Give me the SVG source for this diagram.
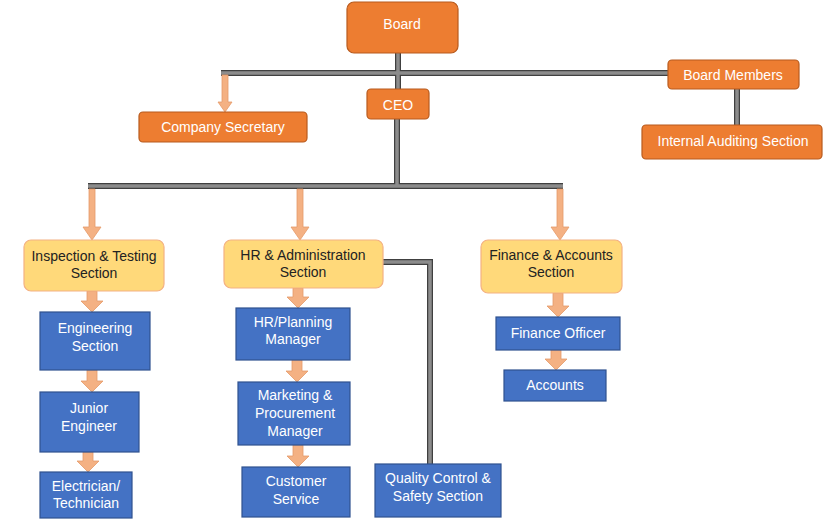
<svg xmlns="http://www.w3.org/2000/svg" width="825" height="528" viewBox="0 0 825 528">
<style>
text{font-family:"Liberation Sans",Arial,sans-serif;fill:#fff;text-anchor:middle;font-size:14px}
.o{fill:#ED7D31;stroke:#B85B1E;stroke-width:1.2}
.y{fill:#FFD97A;stroke:#F4B183;stroke-width:1.2}
.y+text,.yt{fill:#222}
.b{fill:#4472C4;stroke:#2F528F;stroke-width:1.2}
.ln{fill:none;stroke:#404040;stroke-width:6}
.li{fill:none;stroke:#8C8C8C;stroke-width:3.5}
.ar{fill:#F4B183;stroke:#E59A6A;stroke-width:0.8}
</style>
<rect width="825" height="528" fill="#fff"/>
<g id="connectors">
<path class="ln" d="M398 53V90M221 73H668M737 89V125M397 119V186M88 186H563M383 262H430V464"/>
<path class="li" d="M398 53V90M221 73H668M737 89V125M397 119V186M88 186H563M383 262H430V464"/>
<path class="ar" d="M222 75h6v27h4l-7 10l-7-10h4z"/>
<path class="ar" d="M89 189h6v38h6l-9 13l-9-13h6z"/>
<path class="ar" d="M297 189h6v38h6l-9 13l-9-13h6z"/>
<path class="ar" d="M557 189h6v38h6l-9 13l-9-13h6z"/>
<path class="ar" d="M87 291h10v10h6l-11 11l-11-11h6z"/>
<path class="ar" d="M87 370h10v11h6l-11 11l-11-11h6z"/>
<path class="ar" d="M83 452h10v9h6l-11 11l-11-11h6z"/>
<path class="ar" d="M293 288h10v9h6l-11 11l-11-11h6z"/>
<path class="ar" d="M292 360h10v11h6l-11 11l-11-11h6z"/>
<path class="ar" d="M293 445h10v11h6l-11 11l-11-11h6z"/>
<path class="ar" d="M553 293h10v13h6l-11 11l-11-11h6z"/>
<path class="ar" d="M551 350h10v9h6l-11 11l-11-11h6z"/>
</g>
<g id="board"><rect class="o" x="347" y="2" width="111" height="51" rx="7"/><text x="402" y="29" font-size="18">Board</text></g>
<g id="board-members"><rect class="o" x="668" y="60" width="131" height="29" rx="4"/><text x="733" y="80" font-size="15">Board Members</text></g>
<g id="internal-auditing"><rect class="o" x="642" y="125" width="180" height="34" rx="4"/><text x="733" y="146">Internal Auditing Section</text></g>
<g id="ceo"><rect class="o" x="367" y="89" width="62" height="30" rx="4"/><text x="398" y="110" font-size="15">CEO</text></g>
<g id="company-secretary"><rect class="o" x="139" y="112" width="168" height="30" rx="4"/><text x="223" y="132">Company Secretary</text></g>
<g id="inspection"><rect class="y" x="24" y="240" width="140" height="51" rx="7"/><text class="yt" x="94" y="261">Inspection &amp; Testing</text><text class="yt" x="94" y="278">Section</text></g>
<g id="hr-admin"><rect class="y" x="224" y="240" width="159" height="48" rx="7"/><text class="yt" x="303" y="260">HR &amp; Administration</text><text class="yt" x="303" y="277">Section</text></g>
<g id="finance"><rect class="y" x="481" y="240" width="141" height="53" rx="7"/><text class="yt" x="551" y="260">Finance &amp; Accounts</text><text class="yt" x="551" y="277">Section</text></g>
<g id="engineering"><rect class="b" x="40" y="312" width="110" height="58"/><text x="95" y="333">Engineering</text><text x="95" y="351">Section</text></g>
<g id="junior-engineer"><rect class="b" x="40" y="392" width="99" height="60"/><text x="89" y="413">Junior</text><text x="89" y="431">Engineer</text></g>
<g id="electrician"><rect class="b" x="40" y="472" width="92" height="46"/><text x="86" y="491">Electrician/</text><text x="86" y="508">Technician</text></g>
<g id="hr-planning"><rect class="b" x="236" y="308" width="114" height="52"/><text x="293" y="327">HR/Planning</text><text x="293" y="344">Manager</text></g>
<g id="marketing"><rect class="b" x="238" y="382" width="112" height="63"/><text x="295" y="400">Marketing &amp;</text><text x="295" y="418">Procurement</text><text x="295" y="436">Manager</text></g>
<g id="customer-service"><rect class="b" x="242" y="467" width="108" height="50"/><text x="296" y="486">Customer</text><text x="296" y="504">Service</text></g>
<g id="quality-control"><rect class="b" x="375" y="464" width="126" height="53"/><text x="438" y="483">Quality Control &amp;</text><text x="438" y="501">Safety Section</text></g>
<g id="finance-officer"><rect class="b" x="496" y="317" width="124" height="33"/><text x="558" y="338">Finance Officer</text></g>
<g id="accounts"><rect class="b" x="504" y="370" width="102" height="31"/><text x="555" y="390">Accounts</text></g>
</svg>
